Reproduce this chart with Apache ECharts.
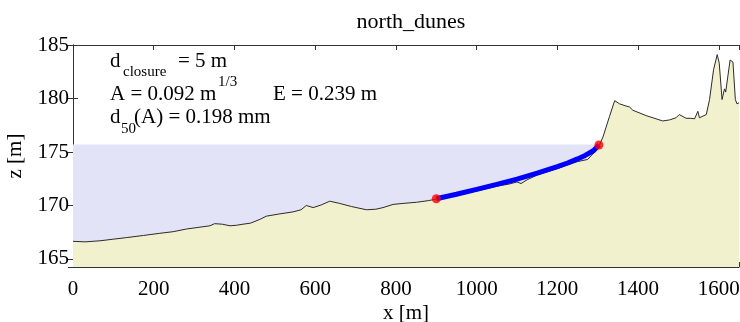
<!DOCTYPE html>
<html>
<head>
<meta charset="utf-8">
<script src="https://cdn.jsdelivr.net/npm/echarts@6/dist/echarts.min.js"></script>
<style>
  html, body { margin: 0; padding: 0; background: #fff; }
  #chart { width: 740px; height: 322px; }
</style>
</head>
<body>
<div id="chart"></div>
<script>
// measured profile (x in m, z in m)
var profileX = [0, 30, 67, 100, 133, 175, 215, 248, 281, 310, 339, 351, 370, 389, 405, 421, 440, 463, 479, 510,
  545, 565, 578, 595, 615, 636, 660, 690, 727, 750, 768, 793, 820, 851, 880, 900, 950, 1000, 1050, 1080,
  1100, 1110, 1125, 1150, 1200, 1250, 1275, 1300, 1313, 1329, 1342, 1354, 1370, 1379, 1387, 1420, 1461, 1478,
  1494, 1502, 1519, 1531, 1540, 1548, 1552, 1556, 1569, 1577, 1587, 1596, 1601, 1608, 1614, 1617, 1628, 1635,
  1641, 1645, 1650]
var profileZ = [166.65, 166.6, 166.7, 166.85, 167.0, 167.2, 167.4, 167.55, 167.8, 167.95, 168.1, 168.3, 168.25, 168.1, 168.15, 168.25, 168.35, 168.7, 169.0, 169.2,
  169.4, 169.6, 170.0, 169.8, 170.05, 170.4, 170.2, 169.9, 169.6, 169.65, 169.8, 170.1, 170.2, 170.3, 170.45, 170.6, 170.95, 171.35, 171.8, 172.0,
  172.2, 172.05, 172.4, 172.85, 173.45, 174.1, 174.3, 175.3, 176.4, 178.3, 179.8, 179.5, 179.3, 179.2, 178.9, 178.4, 177.9, 178.0,
  178.2, 178.5, 178.15, 178.15, 178.1, 178.8, 178.2, 178.15, 178.5, 179.9, 182.7, 184.1, 183.3, 179.9, 180.9, 180.6, 183.6, 183.4,
  179.9, 179.5, 179.6]

// fitted equilibrium profile (blue)
var deanX = [900, 950, 1000, 1050, 1100, 1150, 1200, 1225, 1250, 1270, 1290, 1303]
var deanZ = [170.63, 171.05, 171.5, 171.97, 172.47, 173.02, 173.63, 173.97, 174.35, 174.7, 175.14, 175.65]

// end points of the fit
var endX = [900, 1303]
var endZ = [170.63, 175.65]

// water surface
var waterX = [0, 1320]
var waterZ = [175.7, 175.7]

var xTicks = [0, 200, 400, 600, 800, 1000, 1200, 1400, 1600]
var yTicks = [165, 170, 175, 180, 185]

function pairs(xs, ys) {
  return xs.map(function (x, i) { return [x, ys[i]] })
}

var serif = 'Liberation Serif'
var axisColor = '#333'

var chart = echarts.init(document.getElementById('chart'))

chart.setOption({
  animation: false,
  title: {
    text: 'north_dunes',
    left: 406,
    top: 6,
    textAlign: 'center',
    textStyle: { fontFamily: serif, fontSize: 22, fontWeight: 'normal', color: '#000' }
  },
  grid: { left: 73, right: 1, top: 45, bottom: 55, containLabel: false, outerBoundsMode: 'none' },
  xAxis: [
    {
      type: 'value',
      min: 0,
      max: 1650,
      interval: 200,
      name: 'x [m]',
      nameLocation: 'middle',
      nameGap: 36,
      nameMoveOverlap: false,
      nameTextStyle: { fontFamily: serif, fontSize: 21, color: '#000' },
      axisLine: { lineStyle: { color: axisColor, width: 1 } },
      axisTick: { inside: true, length: 5, lineStyle: { color: axisColor } },
      axisLabel: {
        customValues: xTicks,
        formatter: function (v) { return String(v) },
        fontFamily: serif, fontSize: 21, color: '#000', margin: 12
      },
      splitLine: { show: false }
    },
    {
      type: 'value',
      position: 'top',
      min: 0,
      max: 1650,
      interval: 200,
      axisLine: { lineStyle: { color: axisColor, width: 1 } },
      axisTick: { inside: true, length: 5, lineStyle: { color: axisColor } },
      axisLabel: { show: false },
      splitLine: { show: false }
    }
  ],
  yAxis: [
    {
      type: 'value',
      min: 164.25,
      max: 185,
      name: 'z [m]',
      nameLocation: 'middle',
      nameGap: 47,
      nameMoveOverlap: false,
      nameRotate: 90,
      nameTextStyle: { fontFamily: serif, fontSize: 21, color: '#000' },
      axisLine: { show: true, lineStyle: { color: axisColor, width: 1 } },
      axisTick: { show: true, inside: true, length: 5, lineStyle: { color: axisColor } },
      axisLabel: {
        customValues: yTicks,
        formatter: function (v) { return String(v) },
        fontFamily: serif, fontSize: 21, color: '#000', margin: 4
      },
      splitLine: { show: false }
    },
    {
      type: 'value',
      position: 'right',
      min: 164.25,
      max: 185,
      axisLine: { show: true, lineStyle: { color: axisColor, width: 1 } },
      axisTick: { show: true, inside: true, length: 5, lineStyle: { color: axisColor } },
      axisLabel: { show: false },
      splitLine: { show: false }
    }
  ],
  series: [
    {
      name: 'water',
      type: 'line',
      data: pairs(waterX, waterZ),
      symbol: 'none',
      lineStyle: { width: 0 },
      areaStyle: { color: '#e3e3f7', opacity: 1, origin: 'start' },
      z: 1
    },
    {
      name: 'profile',
      type: 'line',
      data: pairs(profileX, profileZ),
      symbol: 'none',
      lineStyle: { color: '#2a2a2a', width: 1 },
      areaStyle: { color: '#f2f1cd', opacity: 1, origin: 'start' },
      z: 2
    },
    {
      name: 'fit',
      type: 'line',
      data: pairs(deanX, deanZ),
      symbol: 'none',
      lineStyle: { color: '#0000ff', width: 5 },
      z: 3
    },
    {
      name: 'ends',
      type: 'scatter',
      data: pairs(endX, endZ),
      symbol: 'circle',
      symbolSize: 9,
      itemStyle: { color: '#ff0000' },
      z: 4
    }
  ],
  graphic: [
    { type: 'text', left: 110, top: 51, style: { text: 'd', font: '21px ' + serif, fill: '#000' } },
    { type: 'text', left: 123, top: 65, style: { text: 'closure', font: '15px ' + serif, fill: '#000' } },
    { type: 'text', left: 178, top: 51, style: { text: '= 5 m', font: '21px ' + serif, fill: '#000' } },
    { type: 'text', left: 110, top: 84, style: { text: 'A = 0.092 m', font: '21px ' + serif, fill: '#000' } },
    { type: 'text', left: 218, top: 75, style: { text: '1/3', font: '15px ' + serif, fill: '#000' } },
    { type: 'text', left: 273, top: 84, style: { text: 'E = 0.239 m', font: '21px ' + serif, fill: '#000' } },
    { type: 'text', left: 110, top: 107, style: { text: 'd', font: '21px ' + serif, fill: '#000' } },
    { type: 'text', left: 121, top: 122, style: { text: '50', font: '15px ' + serif, fill: '#000' } },
    { type: 'text', left: 134, top: 107, style: { text: '(A) = 0.198 mm', font: '21px ' + serif, fill: '#000' } }
  ]
})
</script>
</body>
</html>
